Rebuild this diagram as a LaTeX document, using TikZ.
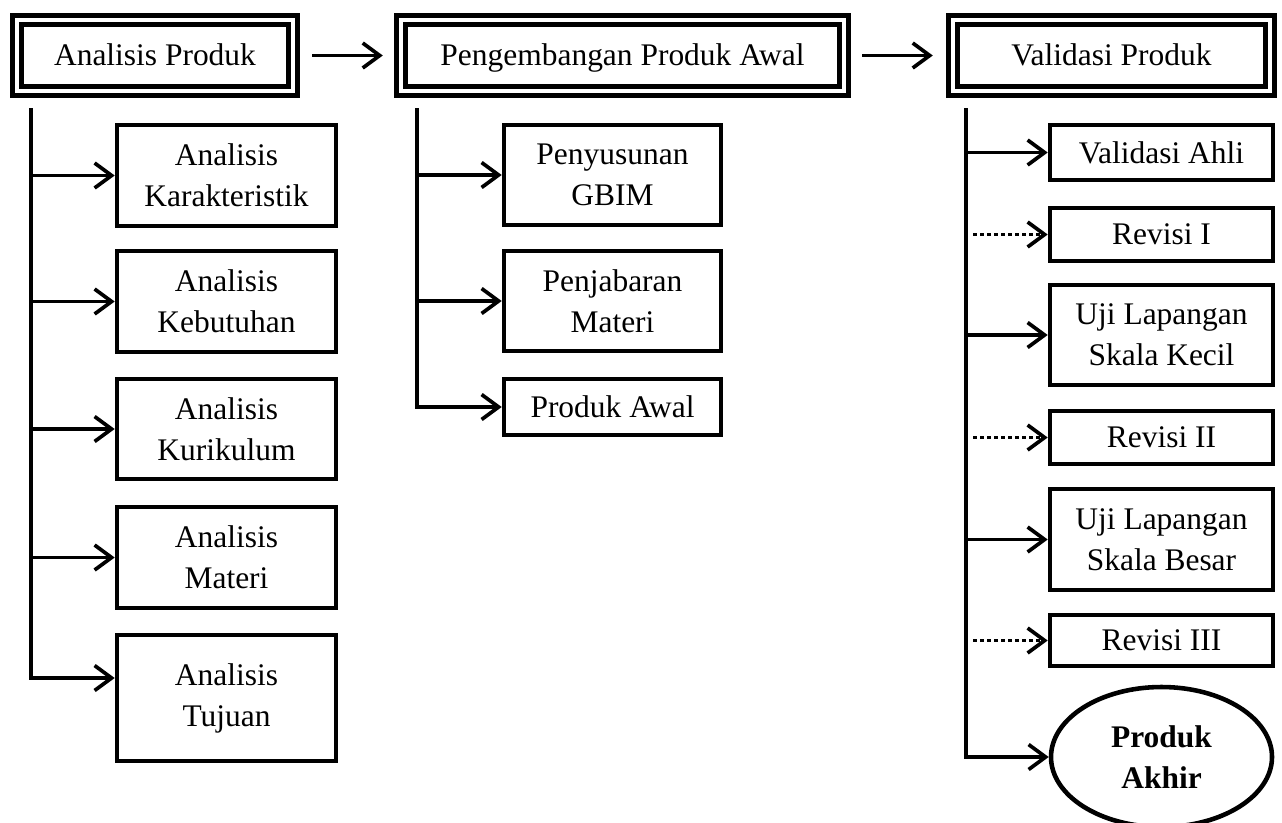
\documentclass[tikz,border=0pt]{standalone}
\usepackage{fontspec}
\setmainfont{Liberation Serif}
\usetikzlibrary{arrows.meta,shapes.geometric}

\begin{document}
\begin{tikzpicture}[
  font=\fontsize{17.9}{23.3}\selectfont,
  tahap/.style={draw,double,line width=2.5pt,double distance=2.7pt,
                minimum height=1.42cm,inner sep=0pt,text height=15pt,text depth=4pt},
  kotak/.style={draw,line width=2.6pt,align=center,inner sep=0pt},
  panah/.style={-{Straight Barb[length=.34cm,width=.5cm]},line width=2.1pt},
  putus/.style={panah,dash pattern=on .08cm off .06cm}]
\useasboundingbox (0,0) rectangle (25.64,-16.44);
% tiga tahap utama
\node[tahap,minimum width=5.52cm] (ap) at (3.10,-1.11) {Analisis Produk};
\node[tahap,minimum width=8.86cm] (pa) at (12.45,-1.11) {Pengembangan Produk Awal};
\node[tahap,minimum width=6.34cm] (vp) at (22.23,-1.11) {Validasi Produk};
\draw[panah,shorten <=.34cm,shorten >=.32cm] (ap.east)--(pa.west);
\draw[panah,shorten <=.32cm,shorten >=.36cm] (pa.east)--(vp.west);
% analisis produk
\coordinate (t1) at (.62,-2.16);
\node[kotak,minimum width=4.38cm,minimum height=2.02cm] (k1) at (4.53,-3.51) {Analisis\\Karakteristik};
\node[kotak,minimum width=4.38cm,minimum height=2.02cm] (k2) at (4.53,-6.03) {Analisis\\Kebutuhan};
\node[kotak,minimum width=4.38cm,minimum height=2.00cm] (k3) at (4.53,-8.58) {Analisis\\Kurikulum};
\node[kotak,minimum width=4.38cm,minimum height=2.02cm] (k4) at (4.53,-11.15) {Analisis\\Materi};
\node[kotak,minimum width=4.38cm,minimum height=2.52cm] (k5) at (4.53,-13.96) {Analisis\\Tujuan};
\draw[panah] (t1) |- ([yshift=.4cm]k5.west);
\draw[panah] (t1 |- k1.west)--(k1.west);
\draw[panah] (t1 |- k2.west)--(k2.west);
\draw[panah] (t1 |- k3.west)--(k3.west);
\draw[panah] (t1 |- k4.west)--(k4.west);
% pengembangan produk awal
\coordinate (t2) at (8.34,-2.16);
\node[kotak,minimum width=4.34cm,minimum height=2.0cm] (p1) at (12.25,-3.50) {Penyusunan\\GBIM};
\node[kotak,minimum width=4.34cm,minimum height=2.0cm] (p2) at (12.25,-6.02) {Penjabaran\\Materi};
\node[kotak,minimum width=4.34cm,minimum height=1.12cm] (p3) at (12.25,-8.14) {Produk Awal};
\draw[panah] (t2) |- (p3.west);
\draw[panah] (t2 |- p1.west)--(p1.west);
\draw[panah] (t2 |- p2.west)--(p2.west);
% validasi produk
\coordinate (t3) at (19.32,-2.16);
\coordinate (t3r) at (19.46,-2.16);
\node[kotak,minimum width=4.46cm,minimum height=1.10cm] (v1) at (23.23,-3.05) {Validasi Ahli};
\node[kotak,minimum width=4.46cm,minimum height=1.06cm] (v2) at (23.23,-4.69) {Revisi I};
\node[kotak,minimum width=4.46cm,minimum height=2.00cm] (v3) at (23.23,-6.70) {Uji Lapangan\\Skala Kecil};
\node[kotak,minimum width=4.46cm,minimum height=1.06cm] (v4) at (23.23,-8.75) {Revisi II};
\node[kotak,minimum width=4.46cm,minimum height=2.02cm] (v5) at (23.23,-10.79) {Uji Lapangan\\Skala Besar};
\node[kotak,minimum width=4.46cm,minimum height=1.02cm] (v6) at (23.23,-12.81) {Revisi III};
\node[kotak,ellipse,minimum width=4.42cm,minimum height=2.8cm,font=\fontsize{17.9}{23.3}\selectfont\bfseries] (akhir) at (23.23,-15.14) {Produk\\Akhir};
\draw[panah] (t3) |- (akhir.west);
\draw[panah] (t3 |- v1.west)--(v1.west);
\draw[putus] (t3r |- v2.west)--(v2.west);
\draw[panah] (t3 |- v3.west)--(v3.west);
\draw[putus] (t3r |- v4.west)--(v4.west);
\draw[panah] (t3 |- v5.west)--(v5.west);
\draw[putus] (t3r |- v6.west)--(v6.west);
\end{tikzpicture}
\end{document}
